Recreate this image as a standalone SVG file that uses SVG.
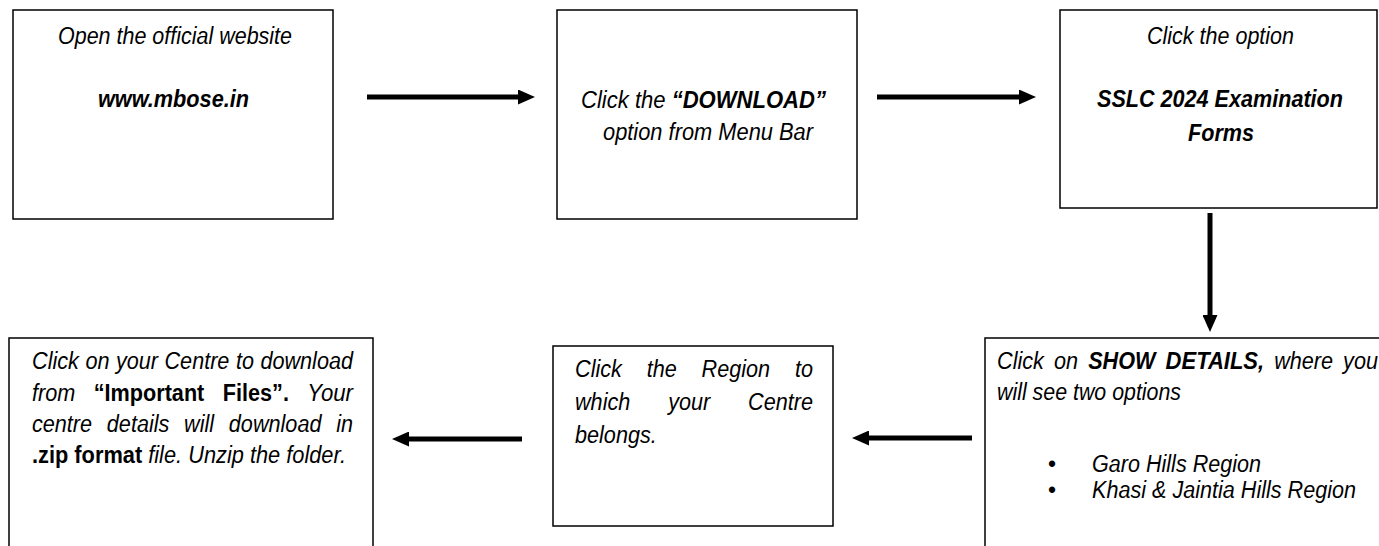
<svg xmlns="http://www.w3.org/2000/svg" width="1379" height="546" viewBox="0 0 1379 546">
<style>
  .box { fill: #ffffff; stroke: #000000; stroke-width: 1.5; }
  text { font-family: "Liberation Sans", Arial, sans-serif; font-size: 23px; fill: #000000; }
  .i { font-style: italic; }
  .bi { font-style: italic; font-weight: bold; }
  .b { font-weight: bold; font-style: normal; }
  .conn { stroke: #000000; stroke-width: 5; fill: none; marker-end: url(#ah); }
</style>
<defs>
  <marker id="ah" viewBox="0 0 17 15" markerUnits="userSpaceOnUse" markerWidth="17" markerHeight="15" refX="5" refY="7.5" orient="auto">
    <path d="M0,0 L17,7.5 L0,15 Z" fill="#000000"/>
  </marker>
</defs>
<rect x="0" y="0" width="1379" height="546" fill="#ffffff"/>

<g id="connectors">
  <line class="conn" x1="367" y1="97" x2="523" y2="97"/>
  <line class="conn" x1="877" y1="97" x2="1024" y2="97"/>
  <line class="conn" x1="1210" y1="213" x2="1210" y2="320"/>
  <line class="conn" x1="972" y1="438" x2="864" y2="438"/>
  <line class="conn" x1="522" y1="439" x2="404" y2="439"/>
</g>

<g id="node-open-website">
  <rect class="box" x="13" y="10" width="320" height="209"/>
  <text class="i" x="58" y="44" textLength="234" lengthAdjust="spacingAndGlyphs">Open the official website</text>
  <text class="bi" x="98" y="107" textLength="151" lengthAdjust="spacingAndGlyphs">www.mbose.in</text>
</g>

<g id="node-download">
  <rect class="box" x="557" y="10" width="300" height="209"/>
  <text class="i" x="581" y="108" textLength="245" lengthAdjust="spacingAndGlyphs">Click the <tspan class="bi">“DOWNLOAD”</tspan></text>
  <text class="i" x="603" y="140" textLength="210" lengthAdjust="spacingAndGlyphs">option from Menu Bar</text>
</g>

<g id="node-sslc-option">
  <rect class="box" x="1060" y="10" width="317" height="198"/>
  <text class="i" x="1147" y="44" textLength="147" lengthAdjust="spacingAndGlyphs">Click the option</text>
  <text class="bi" x="1097" y="107" textLength="246" lengthAdjust="spacingAndGlyphs">SSLC 2024 Examination</text>
  <text class="bi" x="1188" y="141" textLength="66" lengthAdjust="spacingAndGlyphs">Forms</text>
</g>

<g id="node-show-details">
  <rect class="box" x="985" y="338" width="410" height="230"/>
  <text class="i" x="997" y="369" textLength="46.9" lengthAdjust="spacingAndGlyphs">Click</text>
  <text class="i" x="1054" y="369" textLength="24.1" lengthAdjust="spacingAndGlyphs">on</text>
  <text class="bi" x="1088.2" y="369" textLength="67.3" lengthAdjust="spacingAndGlyphs">SHOW</text>
  <text class="bi" x="1165.6" y="369" textLength="98.5" lengthAdjust="spacingAndGlyphs">DETAILS,</text>
  <text class="i" x="1274.2" y="369" textLength="58.9" lengthAdjust="spacingAndGlyphs">where</text>
  <text class="i" x="1343.1" y="369" textLength="34.9" lengthAdjust="spacingAndGlyphs">you</text>
  <text class="i" x="997" y="400" textLength="184" lengthAdjust="spacingAndGlyphs">will see two options</text>
  <text x="1048" y="472">•</text>
  <text class="i" x="1092" y="472" textLength="169" lengthAdjust="spacingAndGlyphs">Garo Hills Region</text>
  <text x="1048" y="498">•</text>
  <text class="i" x="1092" y="498" textLength="264" lengthAdjust="spacingAndGlyphs">Khasi &amp; Jaintia Hills Region</text>
</g>

<g id="node-region">
  <rect class="box" x="553" y="346" width="280" height="180"/>
  <text class="i" x="575" y="377" textLength="46.9" lengthAdjust="spacingAndGlyphs">Click</text>
  <text class="i" x="646.7" y="377" textLength="30.1" lengthAdjust="spacingAndGlyphs">the</text>
  <text class="i" x="701.6" y="377" textLength="68.5" lengthAdjust="spacingAndGlyphs">Region</text>
  <text class="i" x="795" y="377" textLength="18" lengthAdjust="spacingAndGlyphs">to</text>
  <text class="i" x="575" y="410" textLength="55.3" lengthAdjust="spacingAndGlyphs">which</text>
  <text class="i" x="668.2" y="410" textLength="42" lengthAdjust="spacingAndGlyphs">your</text>
  <text class="i" x="748.1" y="410" textLength="64.9" lengthAdjust="spacingAndGlyphs">Centre</text>
  <text class="i" x="575" y="443" textLength="81.8" lengthAdjust="spacingAndGlyphs">belongs.</text>
</g>

<g id="node-centre-download">
  <rect class="box" x="9" y="338" width="364" height="230"/>
  <text class="i" x="32" y="369" textLength="46.9" lengthAdjust="spacingAndGlyphs">Click</text>
  <text class="i" x="85.4" y="369" textLength="24.1" lengthAdjust="spacingAndGlyphs">on</text>
  <text class="i" x="116" y="369" textLength="42" lengthAdjust="spacingAndGlyphs">your</text>
  <text class="i" x="164.5" y="369" textLength="64.9" lengthAdjust="spacingAndGlyphs">Centre</text>
  <text class="i" x="235.9" y="369" textLength="18" lengthAdjust="spacingAndGlyphs">to</text>
  <text class="i" x="260.4" y="369" textLength="92.6" lengthAdjust="spacingAndGlyphs">download</text>
  <text class="i" x="32" y="400.5" textLength="43.3" lengthAdjust="spacingAndGlyphs">from</text>
  <text class="b" x="93.8" y="400.5" textLength="110.5" lengthAdjust="spacingAndGlyphs">“Important</text>
  <text class="b" x="222.8" y="400.5" textLength="66.1" lengthAdjust="spacingAndGlyphs">Files”.</text>
  <text class="i" x="307.3" y="400.5" textLength="45.7" lengthAdjust="spacingAndGlyphs">Your</text>
  <text class="i" x="32" y="432" textLength="60.1" lengthAdjust="spacingAndGlyphs">centre</text>
  <text class="i" x="106.85" y="432" textLength="62.5" lengthAdjust="spacingAndGlyphs">details</text>
  <text class="i" x="184.1" y="432" textLength="30" lengthAdjust="spacingAndGlyphs">will</text>
  <text class="i" x="228.85" y="432" textLength="92.6" lengthAdjust="spacingAndGlyphs">download</text>
  <text class="i" x="336.2" y="432" textLength="16.8" lengthAdjust="spacingAndGlyphs">in</text>
  <text x="32" y="463" textLength="314" lengthAdjust="spacingAndGlyphs"><tspan class="b">.zip format</tspan><tspan class="i"> file. Unzip the folder.</tspan></text>
</g>
</svg>
